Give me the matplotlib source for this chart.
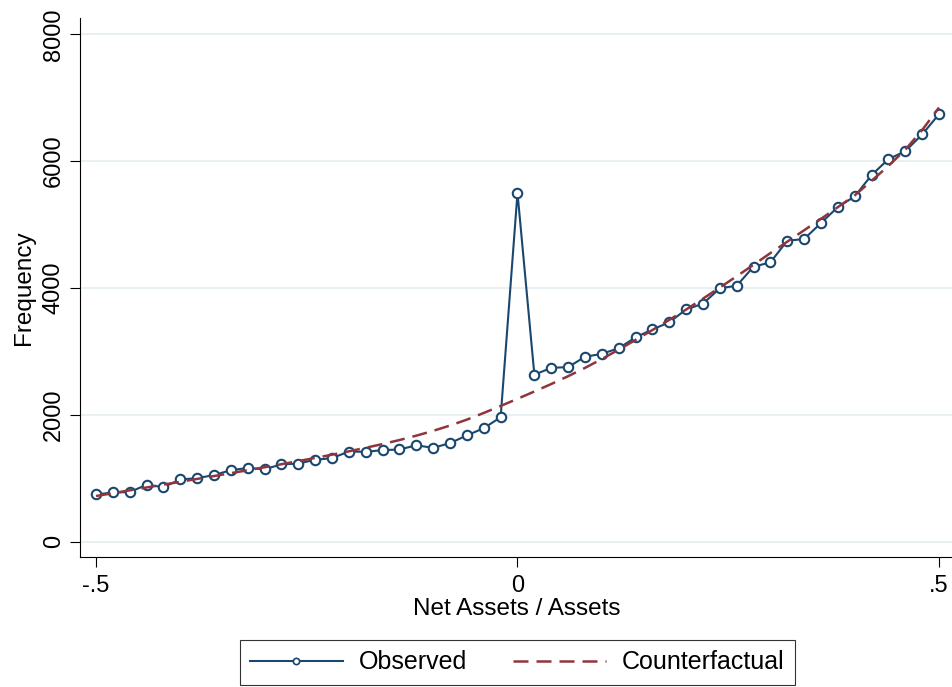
import numpy as np
import matplotlib
matplotlib.use('Agg')
import matplotlib.pyplot as plt
from matplotlib.lines import Line2D

plt.rcParams['font.family'] = ['Liberation Sans', 'DejaVu Sans']

# bins of net assets / assets
bins = np.linspace(-0.5, 0.5, 51)

observed = [745, 776, 782, 898, 861, 981, 1003, 1050, 1129, 1161,
            1145, 1218, 1233, 1291, 1318, 1422, 1417, 1444, 1454, 1520,
            1480, 1555, 1676, 1790, 1962, 5500, 2632, 2742, 2752, 2915,
            2962, 3050, 3222, 3346, 3459, 3661, 3753, 3995, 4036, 4336,
            4404, 4745, 4772, 5024, 5276, 5444, 5780, 6031, 6157, 6420,
            6740]

counterfactual = [720, 765, 810, 855, 900, 945, 990, 1035, 1081, 1127,
                  1174, 1222, 1271, 1321, 1372, 1425, 1481, 1540, 1603, 1672,
                  1748, 1832, 1925, 2030, 2140, 2253, 2368, 2486, 2609, 2740,
                  2880, 3028, 3181, 3337, 3497, 3660, 3832, 4007, 4185, 4366,
                  4550, 4730, 4910, 5090, 5275, 5460, 5690, 5925, 6180, 6490,
                  6845]

xticks = [-0.5, 0, 0.5]
xtick_labels = ['-.5', '0', '.5']
yticks = [0, 2000, 4000, 6000, 8000]

navy = '#1a476f'
maroon = '#90353b'

fig = plt.figure(figsize=(9.53, 6.87), dpi=100)
ax = fig.add_axes([0.08426, 0.18923, 0.91574, 0.78414])

# stata style grid
for yv in yticks:
    ax.axhline(yv, color='#e3ecf0', lw=1.1, zorder=0)

ax.plot(bins, observed, color=navy, lw=1.5, marker='o', ms=6.8,
        mfc='white', mec=navy, mew=1.5, zorder=3)
ax.plot(bins, counterfactual, color=maroon, lw=1.8, dashes=(6, 3.2), zorder=4)

ax.set_xlim(-0.51862, 0.51661)
ax.set_ylim(-241, 8252)
ax.set_xticks(xticks)
ax.set_xticklabels(xtick_labels)
ax.set_yticks(yticks)
ax.set_yticklabels([str(v) for v in yticks], rotation=90, va='center')

ax.tick_params(axis='both', direction='out', length=7.2, width=0.8,
               labelsize=17, colors='black')
ax.tick_params(axis='x', pad=5.5)
ax.tick_params(axis='y', pad=4)

for s in ['top', 'right']:
    ax.spines[s].set_visible(False)
for s in ['left', 'bottom']:
    ax.spines[s].set_linewidth(0.8)
    ax.spines[s].set_color('black')

ax.set_xlabel('Net Assets / Assets', fontsize=17.5)
ax.set_ylabel('Frequency', fontsize=17.5)
ax.xaxis.set_label_coords(0.5004, -0.0765)
ax.yaxis.set_label_coords(-0.052, 0.5)

handles = [
    Line2D([], [], color=navy, lw=1.5, marker='o', ms=4.5, mfc='white',
           mec=navy, mew=1.2),
    Line2D([], [], color=maroon, lw=1.8, dashes=(6, 3.2)),
]
leg = fig.legend(handles, ['Observed', 'Counterfactual'], loc='center',
                 bbox_to_anchor=(0.5429, 0.0359), ncol=2, fontsize=18,
                 frameon=True, fancybox=False, handlelength=3.7,
                 handletextpad=0.65, columnspacing=1.85, borderpad=0.42,
                 numpoints=1)
leg.get_frame().set_edgecolor('black')
leg.get_frame().set_linewidth(0.8)

fig.savefig('out.png', dpi=100)
